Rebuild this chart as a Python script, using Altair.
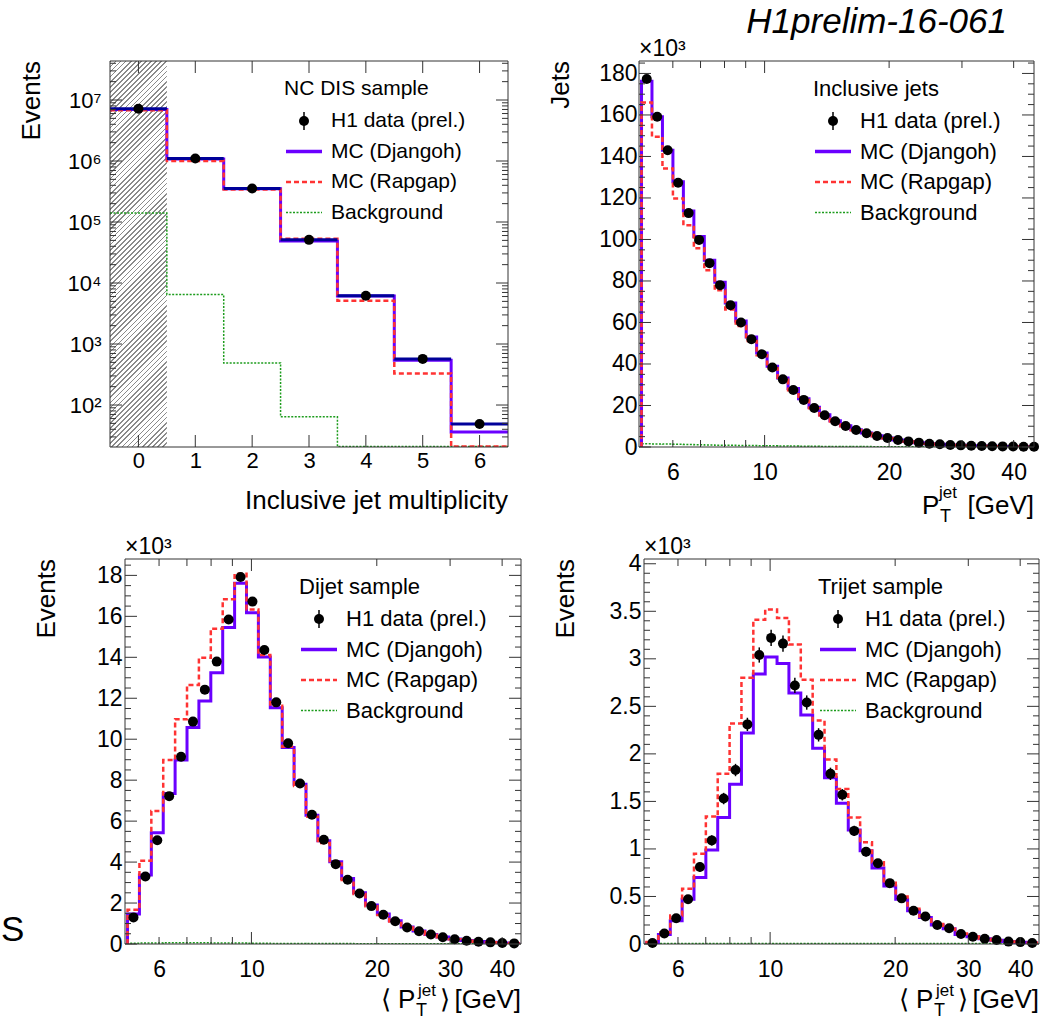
import math
import altair as alt
import pandas as pd

FONT = "Liberation Sans"
FRAME = "#333333"
VIOLET = "#6a00ff"
RED = "#ff3333"
GREEN = "#1c9c1c"
NAVY = "#000099"

# ---------------- values ----------------
# Panel 1: inclusive jet multiplicity (log y)
mult_bins = [0, 1, 2, 3, 4, 5, 6]
mult_edges = [-0.5, 0.5, 1.5, 2.5, 3.5, 4.5, 5.5, 6.5]
mult_data = [7.2e6, 1.1e6, 3.55e5, 5.1e4, 6.2e3, 570, 49]
mult_djangoh = [7.0e6, 1.08e6, 3.5e5, 4.9e4, 6.1e3, 540, 36]
mult_rapgap = [6.8e6, 1.0e6, 3.4e5, 5.3e4, 5.1e3, 330, 20.8]
mult_bkg = [1.4e5, 6.5e3, 490, 64, 20.8, 20.8, 20.8]

# Panel 2: inclusive jets P_T (x10^3)
incl_edges = [5.040, 5.342, 5.663, 6.003, 6.363, 6.745, 7.149, 7.578, 8.033, 8.515,
              9.026, 9.567, 10.141, 10.750, 11.395, 12.078, 12.803, 13.571, 14.385,
              15.249, 16.164, 17.133, 18.161, 19.251, 20.406, 21.630, 22.928, 24.304,
              25.762, 27.308, 28.946, 30.683, 32.524, 34.475, 36.544, 38.736, 41.060,
              43.524, 46.135]
incl_data = [177.3, 159.1, 143.0, 127.3, 112.7, 99.8, 88.6, 78.0, 68.3, 60.0, 51.9, 44.7,
             38.3, 32.6, 27.5, 22.7, 18.8, 15.3, 12.4, 10.1, 8.2, 6.6, 5.3, 4.3, 3.4, 2.7,
             2.1, 1.6, 1.3, 1.0, 0.8, 0.6, 0.5, 0.35, 0.3, 0.2, 0.15, 0.12]
incl_djangoh = [176.2, 159.1, 143.0, 127.8, 113.7, 101.4, 90.0, 79.4, 69.4, 60.7, 53.0, 45.3,
                38.9, 33.3, 28.2, 23.2, 19.1, 15.6, 12.6, 10.2, 8.3, 6.7, 5.4, 4.3, 3.4, 2.7,
                2.1, 1.6, 1.3, 1.0, 0.8, 0.6, 0.5, 0.35, 0.3, 0.2, 0.15, 0.12]
incl_rapgap = [166.0, 149.5, 134.2, 119.8, 106.9, 95.8, 85.2, 75.5, 66.2, 58.3, 51.1, 44.2,
               38.0, 32.4, 27.4, 22.6, 18.7, 15.2, 12.3, 10.0, 8.1, 6.5, 5.2, 4.2, 3.3, 2.6,
               2.0, 1.6, 1.2, 0.95, 0.75, 0.6, 0.45, 0.35, 0.28, 0.2, 0.15, 0.1]
incl_bkg = [1.6, 1.5, 1.4, 1.3, 1.2, 1.1, 1.0, 0.9, 0.8, 0.75, 0.7, 0.6, 0.55, 0.5, 0.45, 0.4,
            0.35, 0.3, 0.28, 0.25, 0.22, 0.2, 0.18, 0.16, 0.14, 0.12, 0.1, 0.09, 0.08, 0.07,
            0.06, 0.05, 0.04, 0.035, 0.03, 0.025, 0.02, 0.02]

# Panels 3 and 4: <P_T> (x10^3)
avg_edges = [5.040, 5.383, 5.749, 6.140, 6.557, 7.003, 7.479, 7.988, 8.531, 9.111, 9.731,
             10.392, 11.099, 11.854, 12.660, 13.521, 14.440, 15.422, 16.471, 17.591, 18.787,
             20.064, 21.429, 22.886, 24.442, 26.104, 27.879, 29.775, 31.800, 33.962, 36.272,
             38.738, 41.372, 44.186]
dijet_data = [1.30, 3.30, 5.07, 7.22, 9.14, 10.86, 12.42, 13.79, 15.85, 17.92, 16.72, 14.36,
              11.80, 9.80, 7.84, 6.31, 5.09, 3.90, 3.14, 2.47, 1.85, 1.43, 1.11, 0.81, 0.62,
              0.46, 0.33, 0.23, 0.16, 0.11, 0.08, 0.05, 0.03]
dijet_djangoh = [1.46, 3.37, 5.43, 7.35, 8.98, 10.57, 11.87, 13.25, 15.45, 17.61, 16.18, 14.02,
                 11.54, 9.59, 7.80, 6.29, 5.04, 4.02, 3.20, 2.50, 1.90, 1.46, 1.13, 0.83, 0.63,
                 0.47, 0.34, 0.24, 0.17, 0.12, 0.08, 0.05, 0.03]
dijet_rapgap = [1.67, 4.07, 6.50, 8.98, 10.98, 12.65, 13.98, 15.40, 16.83, 18.08, 16.34, 14.11,
                11.63, 9.63, 7.72, 6.21, 4.93, 3.93, 3.12, 2.44, 1.84, 1.42, 1.10, 0.80, 0.61,
                0.45, 0.33, 0.23, 0.16, 0.11, 0.08, 0.05, 0.03]
dijet_bkg = [0.04, 0.05, 0.05, 0.06, 0.06, 0.06, 0.06, 0.05, 0.05, 0.05, 0.04, 0.04, 0.03, 0.03,
             0.03, 0.02, 0.02, 0.02, 0.02, 0.01, 0.01, 0.01, 0.01, 0.01, 0.01, 0.01, 0.01, 0.01,
             0.01, 0.01, 0.01, 0.01, 0.01]
trijet_data = [0.01, 0.11, 0.27, 0.47, 0.81, 1.09, 1.53, 1.83, 2.31, 3.04, 3.22, 3.16, 2.72,
               2.54, 2.20, 1.79, 1.57, 1.19, 0.97, 0.85, 0.64, 0.48, 0.35, 0.29, 0.20, 0.165,
               0.105, 0.077, 0.056, 0.042, 0.025, 0.02, 0.01]
trijet_err = [0.01, 0.02, 0.03, 0.04, 0.05, 0.055, 0.06, 0.065, 0.07, 0.08, 0.085, 0.085, 0.08,
              0.075, 0.07, 0.065, 0.06, 0.055, 0.05, 0.045, 0.04, 0.035, 0.03, 0.03, 0.025,
              0.02, 0.02, 0.015, 0.015, 0.01, 0.01, 0.01, 0.01]
trijet_djangoh = [0.01, 0.10, 0.245, 0.47, 0.70, 0.99, 1.33, 1.68, 2.22, 2.84, 3.02, 2.95, 2.64,
                  2.41, 2.06, 1.75, 1.48, 1.20, 0.98, 0.80, 0.61, 0.47, 0.35, 0.28, 0.20, 0.16,
                  0.10, 0.075, 0.055, 0.04, 0.025, 0.018, 0.01]
trijet_rapgap = [0.02, 0.12, 0.30, 0.58, 0.95, 1.34, 1.79, 2.32, 2.80, 3.41, 3.52, 3.43, 3.15,
                 2.78, 2.35, 1.94, 1.63, 1.33, 1.07, 0.86, 0.66, 0.50, 0.37, 0.29, 0.21, 0.16,
                 0.11, 0.08, 0.055, 0.04, 0.027, 0.02, 0.012]
trijet_bkg = [0.005] * 33

legend_labels = ["H1 data (prel.)", "MC (Djangoh)", "MC (Rapgap)", "Background"]

# tick values / labels
mult_xticks = [0, 1, 2, 3, 4, 5, 6]
mult_ylabels = [1e2, 1e3, 1e4, 1e5, 1e6, 1e7]
mult_yminor = [m * 10 ** k for k in range(1, 8) for m in range(2, 10) if 20.5 < m * 10 ** k < 4.36e7]
incl_ylabels = [0, 20, 40, 60, 80, 100, 120, 140, 160, 180]
incl_yminor = [v for v in range(0, 186, 5) if v % 20 != 0]
pt_xlabels = [6, 10, 20, 30, 40]
pt_xmajor = [10]
pt_xminor = [6, 7, 8, 9, 20, 30, 40]
dijet_ylabels = [0, 2, 4, 6, 8, 10, 12, 14, 16, 18]
dijet_yminor = [i / 2 for i in range(0, 38) if i % 4 != 0]
trijet_ylabels = [0, 0.5, 1, 1.5, 2, 2.5, 3, 3.5, 4]
trijet_yminor = [i / 10 for i in range(0, 41) if i % 5 != 0]

DUMMY = pd.DataFrame({"d": [0]})
MSIZE = 100


# ---------------- helpers ----------------
def step_df(edges, vals, start_zero):
    xs, ys = [], []
    if start_zero:
        xs.append(edges[0]); ys.append(0.0)
    for k, v in enumerate(vals):
        xs.append(edges[k]); ys.append(v)
    xs.append(edges[len(vals)]); ys.append(vals[-1])
    return pd.DataFrame({"x": xs, "y": ys, "o": list(range(len(xs)))})


def step(edges, vals, P, color, width, dash=None, start_zero=True):
    kw = dict(color=color, strokeWidth=width, interpolate="step-after", clip=True)
    if dash:
        kw["strokeDash"] = dash
    return alt.Chart(step_df(edges, vals, start_zero)).mark_line(**kw).encode(
        x=alt.X("x:Q", scale=P["xs"], axis=P["xa"]),
        y=alt.Y("y:Q", scale=P["ys"], axis=P["ya"]),
        order="o:Q")


def points(cx, vals, P):
    return alt.Chart(pd.DataFrame({"x": cx, "y": vals})).mark_circle(
        size=MSIZE, color="black", opacity=1).encode(
        x=alt.X("x:Q", scale=P["xs"], axis=P["xa"]), y=alt.Y("y:Q", scale=P["ys"], axis=P["ya"]))


def errbars(cx, vals, errs, P):
    df = pd.DataFrame({"x": cx, "lo": [v - e for v, e in zip(vals, errs)],
                       "hi": [v + e for v, e in zip(vals, errs)]})
    return alt.Chart(df).mark_rule(color="black", strokeWidth=1.5).encode(
        x=alt.X("x:Q", scale=P["xs"], axis=P["xa"]),
        y=alt.Y("lo:Q", scale=P["ys"], axis=P["ya"]), y2="hi:Q")


def yticks(vals, P, L):
    x0, W = P["x0"], P["W"]
    base = alt.Chart(pd.DataFrame({"v": vals})).mark_rule(color=FRAME, strokeWidth=1)
    y = alt.Y("v:Q", scale=P["ys"], axis=P["ya"])
    return [base.encode(y=y, x=alt.value(x0), x2=alt.value(x0 + L)),
            base.encode(y=y, x=alt.value(x0 + W - L), x2=alt.value(x0 + W))]


def xticks(vals, P, L):
    H = P["H"]
    base = alt.Chart(pd.DataFrame({"v": vals})).mark_rule(color=FRAME, strokeWidth=1)
    x = alt.X("v:Q", scale=P["xs"], axis=P["xa"])
    return [base.encode(x=x, y=alt.value(H - L), y2=alt.value(H)),
            base.encode(x=x, y=alt.value(0), y2=alt.value(L))]


def frame(P):
    return alt.Chart(DUMMY).mark_rect(fillOpacity=0, stroke=FRAME, strokeWidth=1).encode(
        x=alt.value(P["x0"]), x2=alt.value(P["x0"] + P["W"]), y=alt.value(0), y2=alt.value(P["H"]))


def vtext(txt, x, y, size, align="left", baseline="alphabetic", angle=0, style="normal"):
    return alt.Chart(DUMMY).mark_text(
        text=txt, align=align, baseline=baseline, angle=angle, fontSize=size,
        font=FONT, fontStyle=style, color="black").encode(x=alt.value(x), y=alt.value(y))


def rule_px(x1, x2, y1, y2, color, width, dash=None):
    kw = dict(color=color, strokeWidth=width)
    if dash:
        kw["strokeDash"] = dash
    return alt.Chart(DUMMY).mark_rule(**kw).encode(
        x=alt.value(x1), x2=alt.value(x2), y=alt.value(y1), y2=alt.value(y2))


def legend(P, header, size):
    o = P["x0"]
    rows = [60, 90.5, 121, 151.5]
    out = [vtext(header, o + 174, 28, size, baseline="middle"),
           rule_px(o + 194, o + 194, rows[0] - 9, rows[0] + 9, "black", 1.5),
           alt.Chart(DUMMY).mark_circle(size=MSIZE, color="black", opacity=1).encode(
               x=alt.value(o + 194), y=alt.value(rows[0])),
           rule_px(o + 176, o + 212, rows[1], rows[1], VIOLET, 3.5),
           rule_px(o + 176, o + 212, rows[2], rows[2], RED, 2.5, [5, 3]),
           rule_px(o + 176, o + 212, rows[3], rows[3], GREEN, 1.5, [2, 1.5])]
    for lab, ry in zip(legend_labels, rows):
        out.append(vtext(lab, o + 221, ry, size, baseline="middle"))
    return out


def make_axis(values, pad, size, fmt="~g", expr=None, offset=0):
    kw = dict(values=values, format=fmt, ticks=False, tickSize=0, domain=False, grid=False,
              labelPadding=pad, labelFontSize=size, labelFont=FONT, labelColor="black",
              title=None, labelFlush=False, labelOverlap=False)
    if expr:
        kw["labelExpr"] = expr
    if offset:
        kw["offset"] = offset
    return alt.Axis(**kw)


def pt_title(P, avg):
    R = P["x0"] + P["W"]
    if avg:
        return [vtext("\u27e8", R - 140, 449, 26), vtext("P", R - 123, 449, 26),
                vtext("jet", R - 103, 437, 17), vtext("T", R - 105, 457, 18),
                vtext("\u27e9", R - 81, 449, 26), vtext("[GeV]", R, 449, 26, align="right")]
    return [vtext("P", R - 112, 453, 26), vtext("jet", R - 95, 437, 17),
            vtext("T", R - 94, 461, 18), vtext("[GeV]", R, 453, 26, align="right")]


def ytitle(P, txt):
    return vtext(txt, P["x0"] - 78, 0, 26, align="right", baseline="middle", angle=270)


def times1e3(P):
    return vtext("\u00d710\u00b3", P["x0"], -5, 23)


def centers(edges):
    return [math.sqrt(edges[i] * edges[i + 1]) for i in range(len(edges) - 1)]


# ---------------- panel 1: multiplicity ----------------
lab_expr = ("'10' + ['\u2070','\u00b9','\u00b2','\u00b3','\u2074','\u2075','\u2076','\u2077',"
            "'\u2078','\u2079'][round(log(datum.value)/LN10)]")
P1 = dict(x0=0, W=398, H=386,
          xs=alt.Scale(domain=[-0.5, 6.5], nice=False, zero=False),
          ys=alt.Scale(type="log", domain=[20.5, 4.36e7], nice=False),
          xa=make_axis(mult_xticks, 3, 22),
          ya=make_axis(mult_ylabels, 9, 22, expr=lab_expr))

wu = P1["W"] / 7.0
H1 = P1["H"]
kk = (wu + H1) / (wu ** 2 + H1 ** 2)
nper = int(round((wu + H1) / math.sqrt(2) / 3.6))
stops = []
for i in range(nper):
    a0, a1, a2 = i / nper, (i + 0.33) / nper, (i + 1) / nper
    stops += [{"offset": a0, "color": "#8a8a8a"}, {"offset": a1, "color": "#8a8a8a"},
              {"offset": a1, "color": "#ffffff"}, {"offset": a2, "color": "#ffffff"}]
HATCH = {"gradient": "linear", "x1": 0, "y1": 0, "x2": kk * wu, "y2": kk * H1, "stops": stops}

hatch = alt.Chart(pd.DataFrame({"a": [mult_edges[0]], "b": [mult_edges[1]]})).mark_rect(
    fill=HATCH).encode(x=alt.X("a:Q", scale=P1["xs"], axis=P1["xa"]), x2="b:Q",
                       y=alt.value(0), y2=alt.value(H1))
navy = alt.Chart(pd.DataFrame({"a": mult_edges[:-1], "b": mult_edges[1:], "y": mult_data})).mark_rule(
    color=NAVY, strokeWidth=3).encode(x=alt.X("a:Q", scale=P1["xs"], axis=P1["xa"]), x2="b:Q",
                                      y=alt.Y("y:Q", scale=P1["ys"], axis=P1["ya"]))
p1_layers = [hatch,
             step(mult_edges, mult_bkg, P1, GREEN, 1.5, [2, 1.5], False),
             step(mult_edges, mult_djangoh, P1, VIOLET, 3, None, False),
             step(mult_edges, mult_rapgap, P1, RED, 2.5, [5, 3], False),
             navy,
             points(mult_bins, mult_data, P1)]
p1_layers += yticks(mult_ylabels, P1, 12) + yticks(mult_yminor, P1, 6)
p1_layers += xticks(mult_xticks, P1, 12)
p1_layers += [frame(P1)]
p1_layers += legend(P1, "NC DIS sample", 21)
p1_layers += [ytitle(P1, "Events"),
              vtext("Inclusive jet multiplicity", P1["W"], 448, 26, align="right"),
              rule_px(-109, -108, 5, 5, "white", 1)]
panel1 = alt.layer(*p1_layers).properties(width=P1["W"], height=P1["H"])

# ---------------- panel 2: inclusive jets ----------------
P2 = dict(x0=0, W=395, H=386,
          xs=alt.Scale(type="log", domain=[4.97, 44.8], nice=False),
          ys=alt.Scale(domain=[0, 186], nice=False, zero=False),
          xa=make_axis(pt_xlabels, 14, 23, fmt="d"),
          ya=make_axis(incl_ylabels, 2, 23, fmt="d"))
c2 = centers(incl_edges)
p2_layers = [step(incl_edges, incl_bkg, P2, GREEN, 1.5, [2, 1.5]),
             step(incl_edges, incl_djangoh, P2, VIOLET, 3),
             step(incl_edges, incl_rapgap, P2, RED, 2.5, [5, 3]),
             points(c2, incl_data, P2)]
p2_layers += yticks(incl_ylabels, P2, 12) + yticks(incl_yminor, P2, 6)
p2_layers += xticks(pt_xmajor, P2, 12) + xticks(pt_xminor, P2, 7)
p2_layers += [frame(P2)]
p2_layers += legend(P2, "Inclusive jets", 22)
p2_layers += [ytitle(P2, "Jets"), times1e3(P2),
              vtext("H1prelim-16-061", 368, -28, 35, align="right", style="italic"),
              rule_px(-100, -99, 5, 5, "white", 1)]
p2_layers += pt_title(P2, False)
panel2 = alt.layer(*p2_layers).properties(width=P2["W"], height=P2["H"])

# ---------------- panel 3: dijet (plot frame inset by 15 px) ----------------
P3 = dict(x0=15, W=396, H=385,
          xs=alt.Scale(type="log", domain=[4.97, 44.4], range=[15, 411], nice=False),
          ys=alt.Scale(domain=[0, 18.8], nice=False, zero=False),
          xa=make_axis(pt_xlabels, 14, 23, fmt="d"),
          ya=make_axis(dijet_ylabels, 3, 23, fmt="d", offset=-15))
c3 = centers(avg_edges)
p3_layers = [step(avg_edges, dijet_bkg, P3, GREEN, 1.5, [2, 1.5]),
             step(avg_edges, dijet_djangoh, P3, VIOLET, 3),
             step(avg_edges, dijet_rapgap, P3, RED, 2.5, [5, 3]),
             points(c3, dijet_data, P3)]
p3_layers += yticks(dijet_ylabels, P3, 12) + yticks(dijet_yminor, P3, 6)
p3_layers += xticks(pt_xmajor, P3, 12) + xticks(pt_xminor, P3, 7)
p3_layers += [frame(P3)]
p3_layers += legend(P3, "Dijet sample", 22)
p3_layers += [ytitle(P3, "Events"), times1e3(P3), vtext("S", P3["x0"] - 124, 382, 35)]
p3_layers += pt_title(P3, True)
panel3 = alt.layer(*p3_layers).properties(width=P3["x0"] + P3["W"], height=P3["H"])

# ---------------- panel 4: trijet ----------------
P4 = dict(x0=0, W=395, H=385,
          xs=alt.Scale(type="log", domain=[4.97, 44.4], nice=False),
          ys=alt.Scale(domain=[0, 4.05], nice=False, zero=False),
          xa=make_axis(pt_xlabels, 14, 23, fmt="d"),
          ya=make_axis(trijet_ylabels, 3, 23))
p4_layers = [step(avg_edges, trijet_bkg, P4, GREEN, 1.5, [2, 1.5]),
             step(avg_edges, trijet_djangoh, P4, VIOLET, 3),
             step(avg_edges, trijet_rapgap, P4, RED, 2.5, [5, 3]),
             errbars(c3, trijet_data, trijet_err, P4),
             points(c3, trijet_data, P4)]
p4_layers += yticks(trijet_ylabels, P4, 12) + yticks(trijet_yminor, P4, 6)
p4_layers += xticks(pt_xmajor, P4, 12) + xticks(pt_xminor, P4, 7)
p4_layers += [frame(P4)]
p4_layers += legend(P4, "Trijet sample", 22)
p4_layers += [ytitle(P4, "Events"), times1e3(P4), rule_px(-105, -104, 5, 5, "white", 1)]
p4_layers += pt_title(P4, True)
panel4 = alt.layer(*p4_layers).properties(width=P4["W"], height=P4["H"])

chart = alt.concat(panel1, panel2, panel3, panel4, columns=2,
                   spacing={"row": 8, "column": 16},
                   align={"row": "each", "column": "none"}).properties(
    padding={"left": 0, "top": 4, "right": 0, "bottom": 0}, background="white"
).configure_view(stroke="transparent")

chart.save("out.html", embed_options={"renderer": "svg", "actions": False})
